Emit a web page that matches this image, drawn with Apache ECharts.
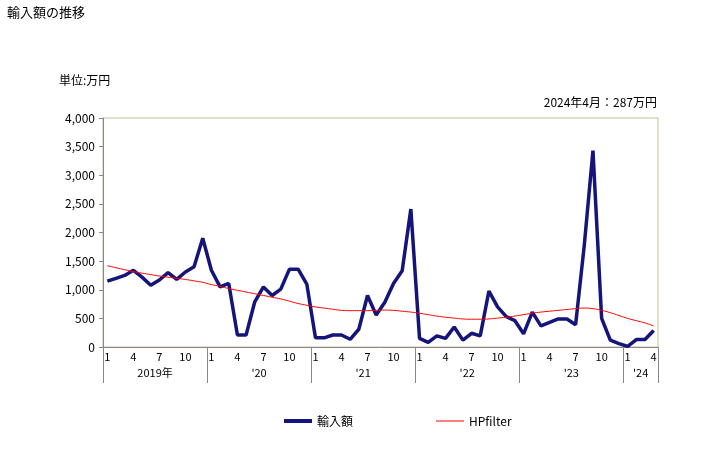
<!DOCTYPE html>
<html><head><meta charset="utf-8">
<script src="https://cdn.jsdelivr.net/npm/echarts@6/dist/echarts.min.js"></script>
<style>html,body{margin:0;padding:0;background:#fff}#c{width:728px;height:450px}</style>
</head><body><div id="c"></div>
<script>
const months = [];
const years = [2019,2020,2021,2022,2023,2024];
for (const y of years) { const n = y === 2024 ? 4 : 12; for (let m = 1; m <= n; m++) months.push(String(m)); }
const yearLabels = ['2019年', "'20", "'21", "'22", "'23", "'24"];
const yearStarts = [0, 12, 24, 36, 48, 60, 64];
const yearMids = [6, 18, 30, 42, 54, 62];
const imports = [1150,1200,1250,1340,1220,1080,1170,1300,1180,1310,1400,1900,
  1340,1050,1110,210,210,790,1050,900,1010,1360,1360,1100,
  160,160,210,210,135,310,900,560,780,1110,1330,2410,
  150,80,195,150,350,120,240,195,975,700,530,460,
  230,610,370,430,490,490,390,1780,3430,500,120,60,
  10,130,130,287];
const hpfilter = [1420,1385,1350,1316,1290,1265,1240,1220,1200,1180,1155,1130,
  1090,1060,1020,990,960,930,900,870,840,800,760,730,
  700,680,660,640,635,635,635,640,645,640,625,610,
  590,565,540,520,505,490,485,485,490,505,520,540,
  565,590,610,625,640,655,670,680,670,640,600,550,
  500,460,420,370];
const FONT = '"Noto Sans CJK JP", sans-serif';
const BLUE = '#14147a', RED = '#ff0000';
const chart = echarts.init(document.getElementById('c'), null, {renderer:'canvas'});
chart.setOption({
  animation: false,
  textStyle: {fontFamily: FONT, color: '#000'},
  title: [
    {text: '輸入額の推移', left: 2, top: 1, textStyle: {fontSize: 13, fontWeight: 'normal', color: '#000', fontFamily: FONT}},
    {text: '単位:万円', left: 54, top: 69, textStyle: {fontSize: 12, fontWeight: 'normal', color: '#000', fontFamily: FONT}},
    {text: '2024年4月：287万円', right: 66, top: 91, textStyle: {fontSize: 12, fontWeight: 'normal', color: '#000', fontFamily: FONT}}
  ],
  legend: {
    left: 279, top: 410, itemGap: 83, itemWidth: 28, itemHeight: 10, symbolKeepAspect: true,
    textStyle: {fontSize: 12, color: '#000', fontFamily: FONT},
    data: [
      {name: '輸入額', icon: 'path://M0,0L28,0L28,4L0,4Z', itemStyle: {color: BLUE}},
      {name: 'HPfilter', icon: 'path://M0,0L28,0L28,1L0,1Z', itemStyle: {color: RED}}
    ]
  },
  grid: {left: 103, right: 70, top: 118, bottom: 103, show: true, borderColor: '#c8bd94', borderWidth: 1, containLabel: false},
  xAxis: [
    {type: 'category', data: months, boundaryGap: true, position: 'bottom',
     axisLine: {lineStyle: {color: '#888', width: 1}},
     axisTick: {show: false},
     axisLabel: {interval: (i) => (i % 12) % 3 === 0, fontSize: 11, color: '#000', margin: 4, fontFamily: FONT}},
    {type: 'value', min: 0, max: 64, position: 'bottom',
     axisLine: {show: false},
     splitLine: {show: false},
     axisTick: {show: true, customValues: yearStarts, length: 36, lineStyle: {color: '#888'}},
     axisLabel: {customValues: yearMids, margin: 20, fontSize: 11, color: '#000', fontFamily: FONT,
       formatter: (v) => yearLabels[yearMids.indexOf(v)]}}
  ],
  yAxis: {type: 'value', min: 0, max: 4000, interval: 500,
    axisLine: {show: true, lineStyle: {color: '#888'}},
    axisTick: {show: true, length: 4, lineStyle: {color: '#888'}},
    splitLine: {show: false},
    axisLabel: {fontSize: 12, color: '#000', margin: 8, fontFamily: FONT,
      formatter: (v) => v.toLocaleString('en-US')}},
  series: [
    {name: '輸入額', type: 'line', xAxisIndex: 0, data: imports, symbol: 'none',
     lineStyle: {color: BLUE, width: 3.5}, itemStyle: {color: BLUE}, z: 3},
    {name: 'HPfilter', type: 'line', xAxisIndex: 0, data: hpfilter, symbol: 'none', smooth: true,
     lineStyle: {color: RED, width: 1}, itemStyle: {color: RED}, z: 4}
  ]
});
</script></body></html>
